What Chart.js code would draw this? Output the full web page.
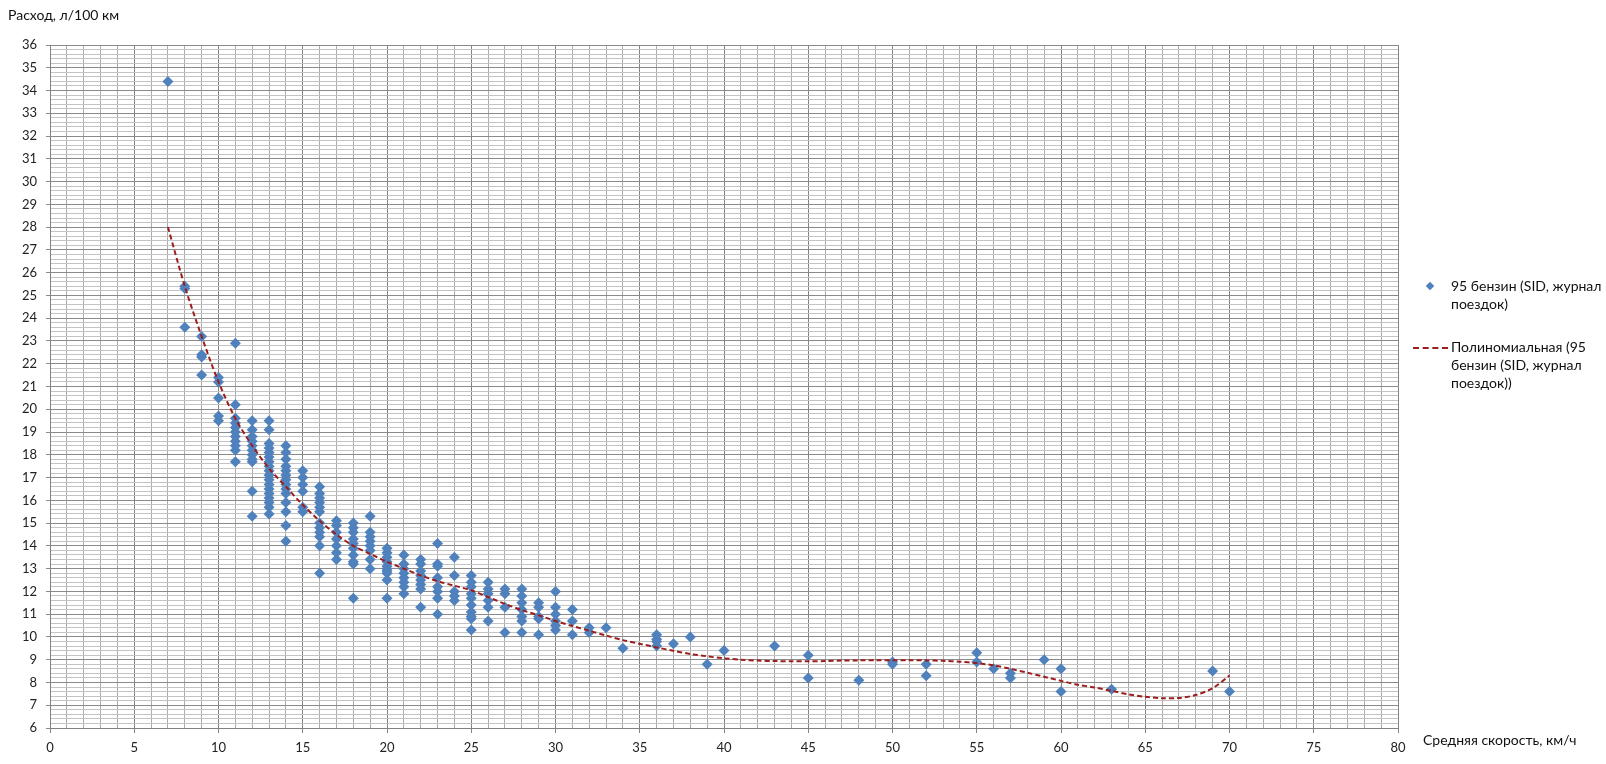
<!DOCTYPE html>
<html>
<head>
<meta charset="utf-8">
<script src="https://cdn.jsdelivr.net/npm/chart.js@4.4.1/dist/chart.umd.min.js"></script>
<style>
  html, body { margin: 0; padding: 0; background: #fff; }
  #wrap { position: relative; width: 1606px; height: 764px; font-family: Lato, "Open Sans", sans-serif; color: #111; }
  #c { position: absolute; left: 0; top: 0; }
  .t { position: absolute; font-size: 14px; white-space: nowrap; line-height: 18px; }
  .mk { position: absolute; width: 6px; height: 6px; background: #4f81bd; transform: rotate(45deg); }
  .dl { position: absolute; height: 0; border-top: 2px dashed #9c1d1d; }
</style>
</head>
<body>
<div id="wrap">
  <canvas id="c" width="1606" height="764"></canvas>
  <div class="t" style="left:8px; top:6px;">Расход, л/100 км</div>
  <div class="t" style="left:1423px; top:731px;">Средняя скорость, км/ч</div>
  <div class="mk" style="left:1427px; top:283px;"></div>
  <div class="t" style="left:1451px; top:277px;">95 бензин (SID, журнал<br>поездок)</div>
  <div class="dl" style="left:1413px; top:347px; width:35px;"></div>
  <div class="t" style="left:1451px; top:338px;">Полиномиальная (95<br>бензин (SID, журнал<br>поездок))</div>
</div>
<script>
// Scatter data: average speed (km/h) and fuel consumption (l/100 km)
const speedKmh = [
  7,
  8, 8, 8,
  9, 9, 9, 9,
  10, 10, 10, 10, 10,
  11, 11, 11, 11, 11, 11, 11, 11, 11, 11, 11,
  12, 12, 12, 12, 12, 12, 12, 12, 12, 12, 12,
  13, 13, 13, 13, 13, 13, 13, 13, 13, 13, 13, 13, 13, 13, 13, 13, 13, 13,
  14, 14, 14, 14, 14, 14, 14, 14, 14, 14, 14, 14, 14, 14,
  15, 15, 15, 15, 15, 15,
  16, 16, 16, 16, 16, 16, 16, 16, 16, 16, 16, 16,
  17, 17, 17, 17, 17, 17, 17,
  18, 18, 18, 18, 18, 18, 18, 18, 18, 18,
  19, 19, 19, 19, 19, 19, 19, 19,
  20, 20, 20, 20, 20, 20, 20, 20, 20, 20,
  21, 21, 21, 21, 21, 21, 21, 21,
  22, 22, 22, 22, 22, 22, 22, 22,
  23, 23, 23, 23, 23, 23, 23, 23,
  24, 24, 24, 24, 24,
  25, 25, 25, 25, 25, 25, 25, 25, 25, 25,
  26, 26, 26, 26, 26, 26,
  27, 27, 27, 27,
  28, 28, 28, 28, 28, 28, 28,
  29, 29, 29, 29, 29,
  30, 30, 30, 30, 30, 30,
  31, 31, 31,
  32, 32,
  33,
  34,
  36, 36, 36, 36,
  37,
  38,
  39,
  40,
  43,
  45, 45,
  48,
  50, 50,
  52, 52,
  55, 55,
  56,
  57, 57,
  59,
  60, 60,
  63,
  69,
  70
];
const fuelL100 = [
  34.4,
  25.4, 25.3, 23.6,
  23.2, 22.4, 22.3, 21.5,
  21.4, 21.2, 20.5, 19.7, 19.5,
  22.9, 20.2, 19.6, 19.4, 19.2, 19.0, 18.8, 18.6, 18.4, 18.2, 17.7,
  19.5, 19.1, 18.8, 18.6, 18.4, 18.2, 18.0, 17.8, 17.7, 16.4, 15.3,
  19.5, 19.1, 18.5, 18.3, 18.1, 17.9, 17.7, 17.5, 17.3, 17.1, 16.9, 16.7, 16.5, 16.3, 16.1, 15.9, 15.7, 15.4,
  18.4, 18.1, 17.8, 17.5, 17.3, 17.1, 16.9, 16.7, 16.5, 16.3, 15.9, 15.5, 14.9, 14.2,
  17.3, 17.0, 16.7, 16.4, 15.7, 15.5,
  16.6, 16.3, 16.1, 15.9, 15.7, 15.5, 15.0, 14.8, 14.6, 14.4, 14.0, 12.8,
  15.1, 14.9, 14.6, 14.3, 14.0, 13.7, 13.4,
  15.0, 14.8, 14.6, 14.3, 14.1, 13.9, 13.6, 13.3, 13.2, 11.7,
  15.3, 14.6, 14.4, 14.2, 14.0, 13.8, 13.4, 13.0,
  13.9, 13.7, 13.5, 13.3, 13.1, 13.0, 12.9, 12.8, 12.5, 11.7,
  13.6, 13.2, 13.0, 12.8, 12.6, 12.4, 12.2, 11.9,
  13.4, 13.2, 12.9, 12.7, 12.5, 12.3, 12.1, 11.3,
  14.1, 13.2, 13.1, 12.6, 12.2, 12.0, 11.7, 11.0,
  13.5, 12.7, 12.0, 11.8, 11.6,
  12.7, 12.4, 12.2, 11.9, 11.7, 11.4, 11.1, 10.9, 10.8, 10.3,
  12.4, 12.1, 11.9, 11.6, 11.3, 10.7,
  12.1, 11.9, 11.3, 10.2,
  12.1, 11.8, 11.5, 11.2, 10.9, 10.7, 10.2,
  11.5, 11.3, 10.9, 10.8, 10.1,
  12.0, 11.3, 11.0, 10.7, 10.5, 10.3,
  11.2, 10.7, 10.1,
  10.4, 10.2,
  10.4,
  9.5,
  10.1, 9.9, 9.8, 9.6,
  9.7,
  10.0,
  8.8,
  9.4,
  9.6,
  9.2, 8.2,
  8.1,
  8.9, 8.8,
  8.8, 8.3,
  9.3, 8.9,
  8.6,
  8.4, 8.2,
  9.0,
  8.6, 7.6,
  7.7,
  8.5,
  7.6
];
// Polynomial trend line
const trendX = [7, 8, 9, 10, 11, 12, 13, 14, 15, 16, 17, 18, 19, 20, 21, 22, 23, 24, 25, 26, 27, 28, 29, 30,
  31, 32, 33, 34, 35, 36, 37, 38, 39, 40, 41, 42, 43, 44, 45, 46, 47, 48, 49, 50, 51, 52, 53, 54, 55, 56, 57, 58,
  59, 60, 61, 62, 63, 64, 65, 66, 67, 68, 69, 70];
const trendY = [28.0, 25.4, 23.2, 21.2, 19.6, 18.4, 17.4, 16.6, 15.8, 15.1, 14.5, 14.0, 13.65, 13.3, 13.0, 12.7, 12.45,
  12.25, 12.05, 11.75, 11.45, 11.18, 10.95, 10.7, 10.48, 10.27, 10.06, 9.86, 9.7, 9.54, 9.39, 9.25, 9.15, 9.06, 9.0,
  8.96, 8.94, 8.93, 8.93, 8.94, 8.96, 8.97, 8.98, 8.98, 8.98, 8.97, 8.95, 8.91, 8.85, 8.75, 8.6, 8.43, 8.25, 8.07,
  7.9, 7.78, 7.63, 7.48, 7.37, 7.31, 7.32, 7.45, 7.75, 8.3];
const seriesNames = ['95 бензин (SID, журнал поездок)', 'Полиномиальная (95 бензин (SID, журнал поездок))'];
const xRange = [0, 80];
const yRange = [6, 36];

const scatterPts = speedKmh.map((x, i) => ({ x: x, y: fuelL100[i] }));
const trendPts = trendX.map((x, i) => ({ x: x, y: trendY[i] }));

const isInt = v => Math.abs(v - Math.round(v)) < 1e-6;
const isFive = v => isInt(v) && Math.round(v) % 5 === 0;

new Chart(document.getElementById('c'), {
  type: 'scatter',
  data: {
    datasets: [
      {
        label: seriesNames[1],
        data: trendPts,
        showLine: true,
        borderColor: '#9c1d1d',
        borderWidth: 2,
        borderDash: [5, 3],
        pointRadius: 0,
        tension: 0.3,
        order: 0
      },
      {
        label: seriesNames[0],
        data: scatterPts,
        pointStyle: 'rectRot',
        pointRadius: 5.5,
        pointBackgroundColor: '#4f81bd',
        pointBorderColor: '#4f81bd',
        pointBorderWidth: 0,
        order: 1
      }
    ]
  },
  options: {
    responsive: false,
    animation: false,
    layout: { padding: { top: 45, right: 208, left: 0, bottom: 0 } },
    plugins: { legend: { display: false }, tooltip: { enabled: false } },
    scales: {
      x: {
        type: 'linear',
        min: xRange[0], max: xRange[1],
        afterFit: s => { s.height = 36; },
        ticks: {
          stepSize: 1, autoSkip: false, maxRotation: 0, padding: 7,
          color: '#222', font: { family: 'Lato', size: 13 },
          callback: v => isFive(v) ? String(Math.round(v)) : ''
        },
        grid: {
          color: c => isFive(c.tick.value) ? '#828282' : '#ababab',
          tickColor: c => isFive(c.tick.value) ? '#828282' : 'rgba(0,0,0,0)',
          tickLength: 5, lineWidth: 1
        },
        border: { color: '#828282', width: 1 }
      },
      y: {
        type: 'linear',
        min: yRange[0], max: yRange[1],
        afterFit: s => { s.width = 50; },
        ticks: {
          stepSize: 0.2, autoSkip: false, maxTicksLimit: 400, padding: 9,
          color: '#222', font: { family: 'Lato', size: 13 },
          callback: v => isInt(v) ? String(Math.round(v)) : ''
        },
        grid: {
          color: c => isInt(c.tick.value) ? '#8a8a8a' : '#c4c4c4',
          tickColor: c => isInt(c.tick.value) ? '#8a8a8a' : 'rgba(0,0,0,0)',
          tickLength: 4, lineWidth: 1
        },
        border: { color: '#828282', width: 1 }
      }
    }
  }
});
</script>
</body>
</html>
